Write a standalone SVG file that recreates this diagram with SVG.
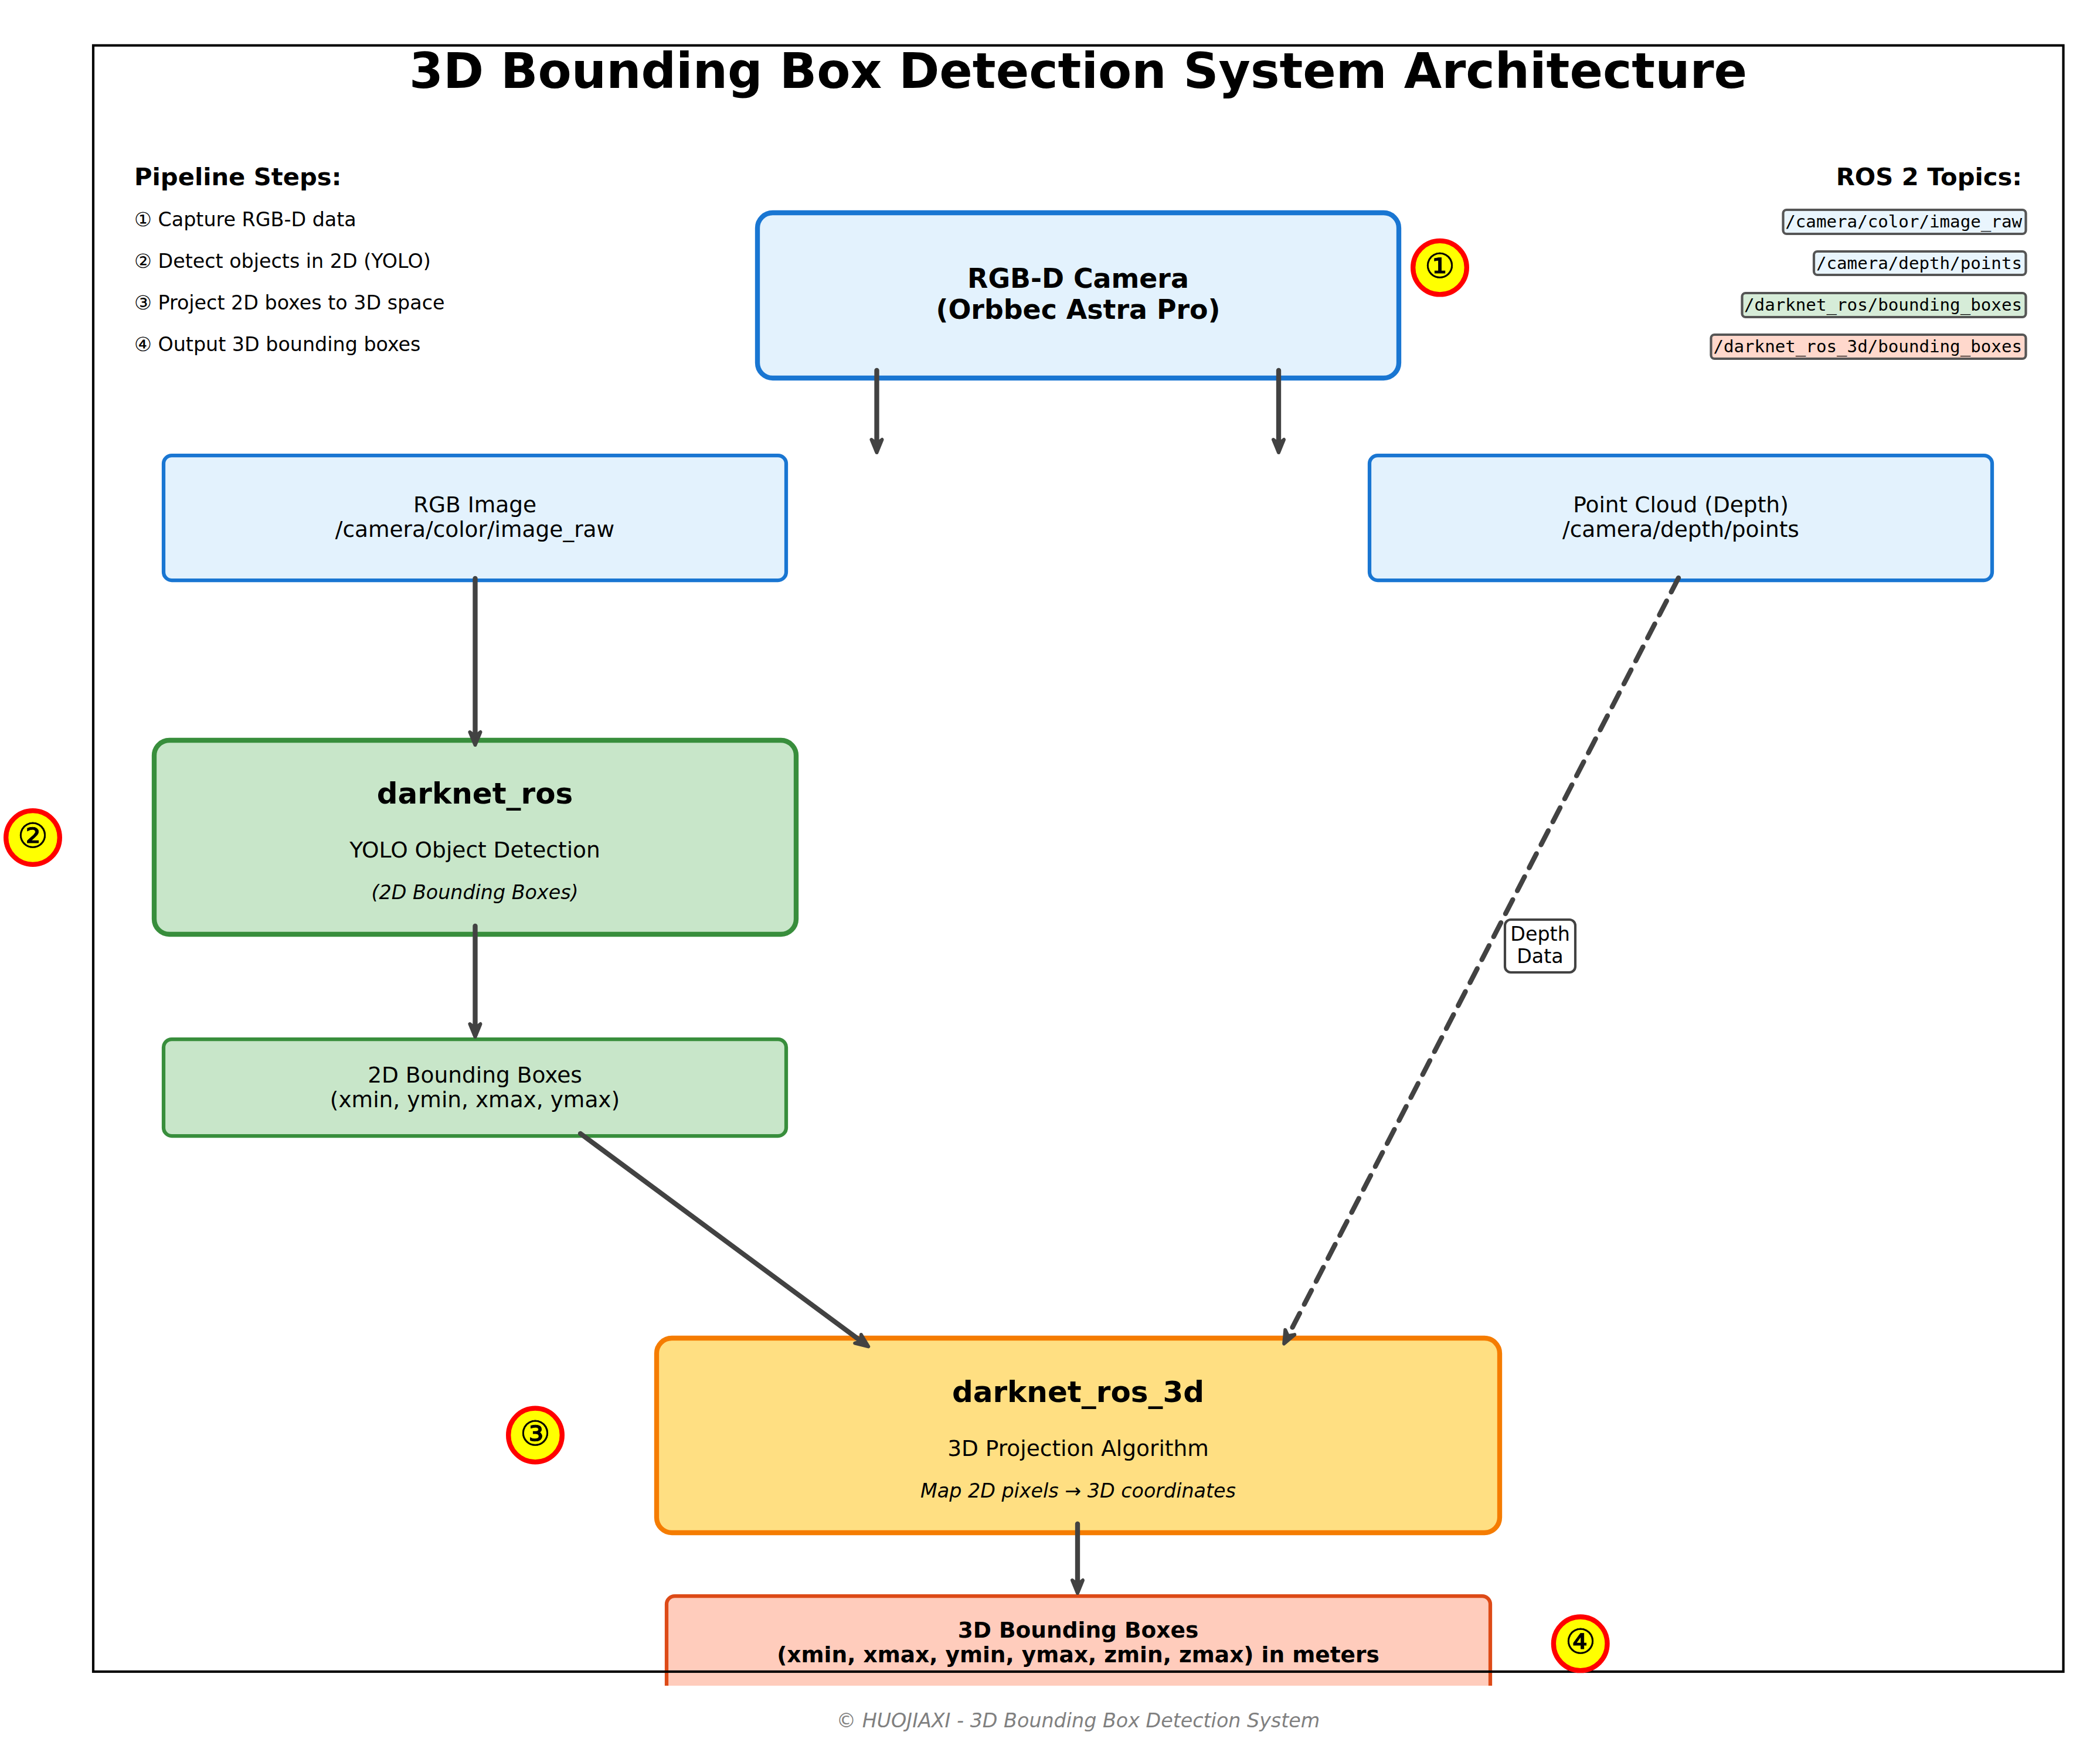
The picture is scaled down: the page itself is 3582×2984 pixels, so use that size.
<svg xmlns="http://www.w3.org/2000/svg" width="3582" height="2984" viewBox="0 0 3582 2984">
<style>
text{font-family:"DejaVu Sans","Liberation Sans",sans-serif;fill:#000;text-anchor:middle}
.b{font-weight:bold}
.i{font-style:italic}
.l{text-anchor:start}
.r{text-anchor:end}
.t20{font-size:83.33px}
.f12{font-size:50px}
.f11{font-size:45.83px}
.f10{font-size:41.67px}
.f9{font-size:37.5px}
.f8{font-size:33.33px}
.mono{font-family:"DejaVu Sans Mono","Liberation Mono",monospace;font-size:29.17px;text-anchor:end}
.blue{fill:#E3F2FD;stroke:#1976D2}
.green{fill:#C8E6C9;stroke:#388E3C}
.orange{fill:#FFDF82;stroke:#F57C00}
.red{fill:#FFCCBC;stroke:#DD4A17}
.main{stroke-width:8.33}
.sub{stroke-width:6.25}
.tag{stroke:#555;stroke-width:4.17}
.badge{fill:#FF0;stroke:#F00;stroke-width:8.33}
.badgetext{font-size:58.33px;stroke:#000;stroke-width:.8}
.conn{fill:none;stroke:#424242;stroke-width:8.33;stroke-linecap:round}
.foot{fill:#808080}
</style>
<defs>
<marker id="head" markerUnits="userSpaceOnUse" markerWidth="60" markerHeight="60" viewBox="-30 -30 60 60" refX="0" refY="0" orient="auto">
<path d="M-18 -9L4 0L-18 9L-11 0Z" fill="#424242" stroke="#424242" stroke-width="6" stroke-linejoin="round"/>
</marker>
<clipPath id="ax"><rect x="0" y="0" width="3582" height="2876"/></clipPath>
</defs>
<rect width="3582" height="2984" fill="#fff"/>
<g clip-path="url(#ax)">
<g id="node-3d-boxes"><rect class="red sub" x="1137" y="2723" width="1405" height="300" rx="14"/><text class="b f9" x="1839" y="2793.5">3D Bounding Boxes</text><text class="b f9" x="1839" y="2836">(xmin, xmax, ymin, ymax, zmin, zmax) in meters</text></g>
<g id="node-camera"><rect class="blue main" x="1292" y="363" width="1094" height="282" rx="26"/><text class="b f11" x="1839" y="491">RGB-D Camera</text><text class="b f11" x="1839" y="543.5">(Orbbec Astra Pro)</text></g>
<g id="node-rgb"><rect class="blue sub" x="279" y="777" width="1062" height="213" rx="14"/><text class="f9" x="810" y="874">RGB Image</text><text class="f9" x="810" y="915.5">/camera/color/image_raw</text></g>
<g id="node-cloud"><rect class="blue sub" x="2336" y="777" width="1062" height="213" rx="14"/><text class="f9" x="2867" y="874">Point Cloud (Depth)</text><text class="f9" x="2867" y="915.5">/camera/depth/points</text></g>
<g id="node-darknet"><rect class="green main" x="263" y="1263" width="1095" height="331" rx="26"/><text class="b f12" x="810" y="1371">darknet_ros</text><text class="f9" x="810" y="1463">YOLO Object Detection</text><text class="i f8" x="810" y="1533.5">(2D Bounding Boxes)</text></g>
<g id="node-2d-boxes"><rect class="green sub" x="279" y="1773" width="1062" height="165" rx="14"/><text class="f9" x="810" y="1846.5">2D Bounding Boxes</text><text class="f9" x="810" y="1888.5">(xmin, ymin, xmax, ymax)</text></g>
<g id="node-darknet3d"><rect class="orange main" x="1120" y="2283" width="1438" height="332" rx="26"/><text class="b f12" x="1839" y="2392">darknet_ros_3d</text><text class="f9" x="1839" y="2483.5">3D Projection Algorithm</text><text class="i f8" x="1839" y="2555">Map 2D pixels → 3D coordinates</text></g>
</g>
<g id="connectors">
<line class="conn" x1="1495.5" y1="632" x2="1495.5" y2="768" marker-end="url(#head)"/>
<line class="conn" x1="2181" y1="632" x2="2181" y2="768" marker-end="url(#head)"/>
<line class="conn" x1="810.5" y1="987" x2="810.5" y2="1267" marker-end="url(#head)"/>
<line class="conn" x1="810.5" y1="1580" x2="810.5" y2="1765" marker-end="url(#head)"/>
<line class="conn" x1="990" y1="1934" x2="1478" y2="2295" marker-end="url(#head)"/>
<line class="conn" x1="2863" y1="986" x2="2192" y2="2289" stroke-dasharray="27 17.1" marker-end="url(#head)"/>
<line class="conn" x1="1838" y1="2600" x2="1838" y2="2714" marker-end="url(#head)"/>
</g>
<g id="label-depth"><rect x="2567" y="1569" width="120" height="90" rx="10" fill="#fff" stroke="#424242" stroke-width="4.17"/><text class="f8" x="2627" y="1605">Depth</text><text class="f8" x="2627" y="1642.7">Data</text></g>
<g id="frame"><rect x="159" y="77.5" width="3360.5" height="2774.5" fill="none" stroke="#000" stroke-width="4.17"/></g>
<g id="title"><text class="b t20" x="1839" y="149.5">3D Bounding Box Detection System Architecture</text></g>
<g id="steps">
<text class="b f10 l" x="229" y="316">Pipeline Steps:</text>
<text class="f8 l" x="229" y="386">① Capture RGB-D data</text>
<text class="f8 l" x="229" y="457">② Detect objects in 2D (YOLO)</text>
<text class="f8 l" x="229" y="528">③ Project 2D boxes to 3D space</text>
<text class="f8 l" x="229" y="599">④ Output 3D bounding boxes</text>
</g>
<g id="topics">
<text class="b f10 r" x="3449" y="316">ROS 2 Topics:</text>
<rect class="tag" x="3041.5" y="358" width="414" height="41" rx="6" fill="#E9F5FD"/><text class="mono" x="3449" y="387.5">/camera/color/image_raw</text>
<rect class="tag" x="3094" y="429" width="361.5" height="40" rx="6" fill="#E9F5FD"/><text class="mono" x="3449" y="458.5">/camera/depth/points</text>
<rect class="tag" x="2971.5" y="500" width="484" height="41" rx="6" fill="#D6ECD8"/><text class="mono" x="3449" y="529.5">/darknet_ros/bounding_boxes</text>
<rect class="tag" x="2918.5" y="571" width="537" height="41" rx="6" fill="#FFD8CC"/><text class="mono" x="3449" y="600.5">/darknet_ros_3d/bounding_boxes</text>
</g>
<g id="badge-1"><circle class="badge" cx="2456" cy="456.6" r="45.8"/><text class="badgetext" x="2456" y="474">①</text></g>
<g id="badge-2"><circle class="badge" cx="56" cy="1429" r="45.8"/><text class="badgetext" x="56" y="1446">②</text></g>
<g id="badge-3"><circle class="badge" cx="913" cy="2448.5" r="45.8"/><text class="badgetext" x="913" y="2466">③</text></g>
<g id="badge-4"><circle class="badge" cx="2695.7" cy="2804.3" r="45.8"/><text class="badgetext" x="2696" y="2821">④</text></g>
<text class="i f8 foot" x="1839" y="2946.5">© HUOJIAXI - 3D Bounding Box Detection System</text>
</svg>
